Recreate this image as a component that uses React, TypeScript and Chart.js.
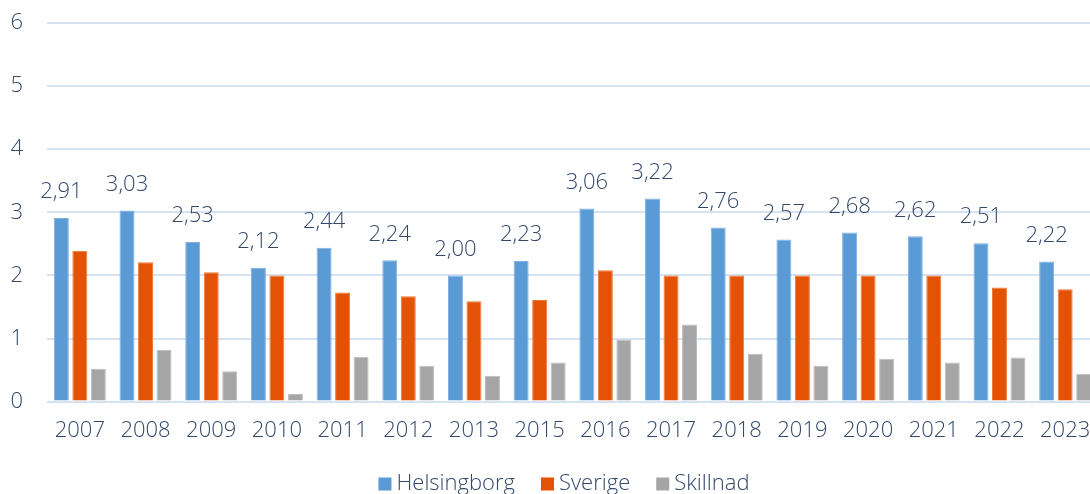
import React, { useEffect, useRef } from "react";
import { Chart, registerables } from "chart.js";

Chart.register(...registerables);

const years = ["2007", "2008", "2009", "2010", "2011", "2012", "2013", "2015", "2016", "2017", "2018", "2019", "2020", "2021", "2022", "2023"];
const helsingborg = [2.91, 3.03, 2.53, 2.12, 2.44, 2.24, 2.0, 2.23, 3.06, 3.22, 2.76, 2.57, 2.68, 2.62, 2.51, 2.22];
const sverige = [2.39, 2.21, 2.05, 2.0, 1.73, 1.67, 1.59, 1.61, 2.08, 2.0, 2.0, 2.0, 2.0, 2.0, 1.81, 1.78];
const skillnad = [0.52, 0.82, 0.48, 0.12, 0.71, 0.57, 0.41, 0.62, 0.98, 1.22, 0.76, 0.57, 0.68, 0.62, 0.7, 0.44];
const yTicks = [0, 1, 2, 3, 4, 5, 6];

const TEXT = "#35476A";
const FONT = "'Open Sans', sans-serif";
const WEIGHT = "300";

const valueLabels = {
  id: "valueLabels",
  afterDatasetsDraw(chart: any) {
    const meta = chart.getDatasetMeta(0);
    const ctx = chart.ctx;
    ctx.save();
    ctx.font = `${WEIGHT} 22px ${FONT}`;
    ctx.fillStyle = TEXT;
    ctx.textAlign = "center";
    ctx.textBaseline = "middle";
    meta.data.forEach((el: any, i: number) => {
      const v = helsingborg[i];
      ctx.fillText(v.toFixed(2).replace(".", ","), el.x, el.y - 26);
    });
    ctx.restore();
  },
};

const customLegend = {
  id: "customLegend",
  afterDraw(chart: any) {
    const ctx = chart.ctx;
    const items = chart.data.datasets.map((d: any) => ({ text: d.label, color: d.backgroundColor }));
    ctx.save();
    ctx.font = `${WEIGHT} 22px ${FONT}`;
    const box = 13;
    const gap = 5;
    const itemGap = 26;
    const widths = items.map((it: any) => box + gap + ctx.measureText(it.text).width);
    const total = widths.reduce((a: number, b: number) => a + b, 0) + itemGap * (items.length - 1);
    let x = 564 - total / 2;
    const y = 484;
    ctx.textBaseline = "middle";
    ctx.textAlign = "left";
    items.forEach((it: any, i: number) => {
      ctx.fillStyle = it.color;
      ctx.fillRect(x, y - box / 2, box, box);
      ctx.fillStyle = TEXT;
      ctx.fillText(it.text, x + box + gap, y);
      x += widths[i] + itemGap;
    });
    ctx.restore();
  },
};

export default function App() {
  const ref = useRef<HTMLCanvasElement | null>(null);
  useEffect(() => {
    if (!ref.current) return;
    const chart = new Chart(ref.current, {
      type: "bar",
      data: {
        labels: years,
        datasets: [
          { label: "Helsingborg", data: helsingborg, backgroundColor: "#5B9BD5", borderColor: "#7FB1E0", borderWidth: 1 },
          { label: "Sverige", data: sverige, backgroundColor: "#E35205", borderColor: "#EE7A3A", borderWidth: 1 },
          { label: "Skillnad", data: skillnad, backgroundColor: "#A5A5A5", borderColor: "#BDBDBD", borderWidth: 1 },
        ],
      },
      options: {
        responsive: false,
        animation: false,
        layout: { padding: { top: 23, right: 2, left: 0, bottom: 53 } },
        datasets: { bar: { categoryPercentage: 0.845, barPercentage: 0.81 } },
        plugins: {
          legend: { display: false },
          tooltip: { enabled: false },
        },
        scales: {
          x: {
            grid: { display: false },
            border: { display: false },
            ticks: { color: TEXT, font: { family: FONT, size: 22, weight: WEIGHT }, padding: 8, maxRotation: 0, autoSkip: false },
          },
          y: {
            min: 0,
            max: 6,
            afterFit(scale: any) {
              scale.width = 47;
              scale.paddingTop = 0;
              scale.paddingBottom = 0;
            },
            afterBuildTicks(scale: any) {
              scale.ticks = yTicks.map((v) => ({ value: v }));
            },
            grid: { color: "#D6E2F1", lineWidth: 2, drawTicks: false },
            border: { display: false },
            ticks: { color: TEXT, font: { family: FONT, size: 22, weight: WEIGHT }, padding: 24 },
          },
        },
      },
      plugins: [valueLabels, customLegend],
    });
    return () => chart.destroy();
  }, []);
  return (
    <div style={{ position: "fixed", left: 0, top: 0, width: 1090, height: 494, overflow: "hidden", background: "#fff" }}>
      <canvas ref={ref} width={1100} height={505} />
    </div>
  );
}
